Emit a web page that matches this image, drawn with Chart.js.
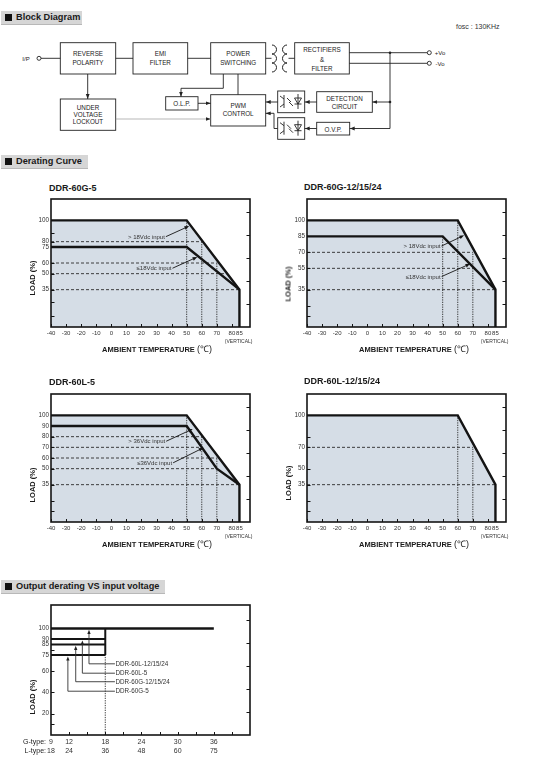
<!DOCTYPE html>
<html>
<head>
<meta charset="utf-8">
<title>DDR-60 derating</title>
<script src="https://cdn.jsdelivr.net/npm/chart.js@4.4.1/dist/chart.umd.min.js"></script>
<style>
  body { margin:0; width:540px; height:757px; position:relative; overflow:hidden; background:#fff; color:#222; font-family:"Liberation Sans", Arial, sans-serif; }
  .abs { position:absolute; }
  .hd { position:absolute; left:1px; height:13px; background:#d6d6d6; border-bottom:1px solid #b8b8b8; font-weight:bold; font-size:9.2px; line-height:13px; white-space:nowrap; color:#1a1a1a; }
  .hd i { display:inline-block; width:7px; height:7px; background:#111; margin:0 4px 0 4px; vertical-align:-0.5px; }
  .ttl { position:absolute; font-weight:bold; font-size:9px; line-height:10px; white-space:nowrap; color:#1a1a1a; }
  .ylab { position:absolute; font-weight:bold; font-size:7.5px; line-height:9px; white-space:nowrap; transform:translate(-50%,-50%) rotate(-90deg); color:#1a1a1a; }
  .xlab { position:absolute; font-weight:bold; font-size:7.5px; line-height:11px; white-space:nowrap; transform:translate(-50%,-50%); color:#1a1a1a; }
  .xlab span { font-weight:normal; font-size:9px; }
  .vert { position:absolute; font-size:5px; line-height:6px; white-space:nowrap; transform:translate(-100%,-50%); color:#333; }
  .vin { position:absolute; font-size:7px; line-height:9px; white-space:nowrap; transform:translate(-100%,-50%); color:#222; }
  canvas { position:absolute; }
</style>
</head>
<body>

<div class="hd" style="top:11px;width:81px"><i></i>Block Diagram</div>
<div class="abs" style="left:456px;top:23px;font-size:7px;color:#333">fosc : 130KHz</div>

<svg class="abs" style="left:0;top:0" width="540" height="145" viewBox="0 0 540 145">
  <defs>
    <marker id="ah" markerUnits="userSpaceOnUse" markerWidth="5" markerHeight="5" refX="5" refY="2.5" orient="auto">
      <path d="M0,0.6 L5,2.5 L0,4.4 Z" fill="#222" stroke="none"/>
    </marker>
  </defs>
  <g fill="none" stroke="#222" stroke-width="0.9">
    <rect x="60.3" y="42.7" width="55.4" height="31.3"/>
    <rect x="133" y="42.7" width="54.7" height="31.3"/>
    <rect x="210.7" y="42.7" width="55" height="31.3"/>
    <rect x="294.7" y="42.7" width="54.6" height="31.3"/>
    <rect x="60.3" y="99" width="55.4" height="31.3"/>
    <rect x="165.7" y="96.7" width="32.3" height="13.3"/>
    <rect x="210.7" y="94.7" width="55" height="31.3"/>
    <rect x="277.7" y="91" width="27" height="21.7"/>
    <rect x="277.7" y="117.7" width="27" height="21.6"/>
    <rect x="316.7" y="91.7" width="55.6" height="20.6"/>
    <rect x="316.7" y="122.3" width="33" height="12.7"/>
    <circle cx="39" cy="58.3" r="2"/>
    <circle cx="429.3" cy="52.7" r="2"/>
    <circle cx="429.3" cy="63.3" r="2"/>
    <path d="M41,58.3 H60.3 M115.7,58.3 H133 M187.7,58.3 H210.7 M265.7,58.3 H271.5 M288.5,58.3 H294.7"/>
    <path d="M349.3,52.7 H427.3 M349.3,63.3 H427.3 M390,52.7 V128.5"/>
    <path d="M272,45 a4.5,4.5 0 0 1 0,9 a4.5,4.5 0 0 1 0,9 a4.5,4.5 0 0 1 0,9" stroke-width="1"/>
    <path d="M287,45 a4.5,4.5 0 0 0 0,9 a4.5,4.5 0 0 0 0,9 a4.5,4.5 0 0 0 0,9" stroke-width="1"/>
    <path d="M87.7,74 V99" marker-end="url(#ah)"/>
    <path d="M223.3,74 V88.3 H181 V96.7" marker-end="url(#ah)"/>
    <path d="M238,74 V94.7"/>
    <path d="M198,103.3 H210.7" marker-end="url(#ah)"/>
    <path d="M115.7,119 H210.7" stroke="#999" stroke-width="0.7" marker-end="url(#ah)"/>
    <path d="M277.7,102 H265.7" marker-end="url(#ah)"/>
    <path d="M277.7,128.5 H274 V113.3 H265.7" marker-end="url(#ah)"/>
    <path d="M316.7,102 H304.7" marker-end="url(#ah)"/>
    <path d="M316.7,128.5 H304.7" marker-end="url(#ah)"/>
    <path d="M390,102 H372.3" marker-end="url(#ah)"/>
    <path d="M390,128.5 H349.7" marker-end="url(#ah)"/>
    <!-- opto couplers -->
    <path d="M284,95 V108 M284,99 L280,96 M284,104 L280,107 M287,98 L291,102 M289,102 L293,106 M298,94 V109 M294.5,98 H301.5 L298,104 Z M294.5,104 H301.5"/>
    <path d="M284,121.7 V134.7 M284,125.7 L280,122.7 M284,130.7 L280,133.7 M287,124.7 L291,128.7 M289,128.7 L293,132.7 M298,120.7 V135.7 M294.5,124.7 H301.5 L298,130.7 Z M294.5,130.7 H301.5"/>
  </g>
  <g fill="#222">
    <circle cx="390" cy="52.7" r="1.3"/>
    <circle cx="390" cy="102" r="1.3"/>
  </g>
  <g font-family="Liberation Sans, Arial, sans-serif" font-size="6.3" fill="#222" text-anchor="middle">
    <text x="88" y="55.5">REVERSE</text>
    <text x="88" y="64.5">POLARITY</text>
    <text x="160.3" y="55.5">EMI</text>
    <text x="160.3" y="64.5">FILTER</text>
    <text x="238.2" y="55.5">POWER</text>
    <text x="238.2" y="64.5">SWITCHING</text>
    <text x="322" y="52.2">RECTIFIERS</text>
    <text x="322" y="61.5">&amp;</text>
    <text x="322" y="70.5">FILTER</text>
    <text x="88" y="109.5">UNDER</text>
    <text x="88" y="117.2">VOLTAGE</text>
    <text x="88" y="124.2">LOCKOUT</text>
    <text x="181.8" y="105.5">O.L.P.</text>
    <text x="238.2" y="107.5">PWM</text>
    <text x="238.2" y="115.5">CONTROL</text>
    <text x="344.5" y="100.5">DETECTION</text>
    <text x="344.5" y="109.2">CIRCUIT</text>
    <text x="333.2" y="131.5">O.V.P.</text>
    <text x="26" y="60.5" font-size="6">I/P</text>
    <text x="440" y="54.9" font-size="6">+Vo</text>
    <text x="440" y="65.5" font-size="6">-Vo</text>
  </g>
</svg>

<div class="hd" style="top:155px;width:87px"><i></i>Derating Curve</div>

<div class="ttl" style="left:49px;top:182.5px">DDR-60G-5</div>
<div class="ttl" style="left:304px;top:181.5px">DDR-60G-12/15/24</div>
<canvas id="c1" width="270" height="160" style="left:0;top:190px"></canvas>
<canvas id="c2" width="270" height="160" style="left:256px;top:190px"></canvas>
<div class="ylab" style="left:31.7px;top:278px">LOAD (%)</div>
<div class="ylab" style="left:288px;top:284px">LOAD (%)</div>
<div class="xlab" style="left:157px;top:349px">AMBIENT TEMPERATURE <span>(℃)</span></div>
<div class="xlab" style="left:414px;top:349px">AMBIENT TEMPERATURE <span>(℃)</span></div>
<div class="vert" style="left:252.5px;top:341px">(VERTICAL)</div>
<div class="vert" style="left:508.5px;top:341px">(VERTICAL)</div>

<div class="ttl" style="left:49px;top:377px">DDR-60L-5</div>
<div class="ttl" style="left:304px;top:376px">DDR-60L-12/15/24</div>
<canvas id="c3" width="270" height="160" style="left:0;top:385px"></canvas>
<canvas id="c4" width="270" height="160" style="left:256px;top:385px"></canvas>
<div class="ylab" style="left:31.7px;top:485px">LOAD (%)</div>
<div class="ylab" style="left:288px;top:482.5px">LOAD (%)</div>
<div class="xlab" style="left:157px;top:544px">AMBIENT TEMPERATURE <span>(℃)</span></div>
<div class="xlab" style="left:414px;top:544px">AMBIENT TEMPERATURE <span>(℃)</span></div>
<div class="vert" style="left:252.5px;top:536px">(VERTICAL)</div>
<div class="vert" style="left:508.5px;top:536px">(VERTICAL)</div>

<div class="hd" style="top:580px;width:164px"><i></i>Output derating VS input voltage</div>
<canvas id="c5" width="270" height="161" style="left:0;top:596px"></canvas>
<div class="ylab" style="left:31.7px;top:697px">LOAD (%)</div>
<div class="vin" style="left:46px;top:740.7px">G-type:</div>
<div class="vin" style="left:46px;top:750.3px">L-type:</div>

<script>
var FONT = '"Liberation Sans", Arial, sans-serif';

// ---- derating curves: ambient temperature (°C) against load (%)
var tempTicks = [-40, -30, -20, -10, 0, 10, 20, 30, 40, 50, 60, 70, 80, 85];
var rightTicks = [21.6, 43.2, 64.8, 86.4, 108];

// DDR-60G-5
var g5UpperTemp = [-40, 50, 85, 85];
var g5UpperLoad = [100, 100, 35, 0];
var g5LowerTemp = [-40, 50, 85];
var g5LowerLoad = [75, 75, 35];
var g5LoadTicks = [100, 80, 75, 60, 50, 35];
var g5MinorTicks = [88, 23, 10];
var g5GuideLoad = [80, 60, 50, 35];
var g5GuideEnd = [60, 70, 77, 85];
var g5DropTemp = [50, 60, 70];
var g5DropLoad = [100, 80, 60];
var g5Notes = ['> 18Vdc input', '\u226418Vdc input'];
var g5NoteFrom = [[36.2, 84.7], [40.6, 55.1]];
var g5NoteTo = [[51.6, 94.6], [57, 65.6]];

// DDR-60G-12/15/24
var g12UpperTemp = [-40, 60, 85, 85];
var g12UpperLoad = [100, 100, 35, 0];
var g12LowerTemp = [-40, 50, 85];
var g12LowerLoad = [85, 85, 35];
var g12LoadTicks = [100, 85, 70, 55, 35];
var g12MinorTicks = [20, 10];
var g12GuideLoad = [70, 55, 35];
var g12GuideEnd = [70, 70, 85];
var g12DropTemp = [50, 60, 70];
var g12DropLoad = [85, 100, 70];
var g12Notes = ['> 18Vdc input', '\u226418Vdc input'];
var g12NoteFrom = [[49.2, 75.9], [49.3, 47.3]];
var g12NoteTo = [[64.2, 85.9], [68.2, 59.2]];

// DDR-60L-5
var l5UpperTemp = [-40, 50, 85, 85];
var l5UpperLoad = [100, 100, 35, 0];
var l5LowerTemp = [-40, 50, 70, 85];
var l5LowerLoad = [90, 90, 50, 35];
var l5LoadTicks = [100, 90, 80, 70, 60, 50, 35];
var l5MinorTicks = [20, 10];
var l5GuideLoad = [80, 70, 60, 50, 35];
var l5GuideEnd = [60, 60, 70, 70, 85];
var l5DropTemp = [50, 60, 70];
var l5DropLoad = [100, 80, 60];
var l5Notes = ['> 36Vdc input', '\u226436Vdc input'];
var l5NoteFrom = [[36.4, 75.7], [41, 55.5]];
var l5NoteTo = [[54, 87.2], [61.1, 69.6]];

// DDR-60L-12/15/24
var l12UpperTemp = [-40, 60, 85, 85];
var l12UpperLoad = [100, 100, 35, 0];
var l12LoadTicks = [100, 70, 50, 35];
var l12MinorTicks = [80, 20, 10];
var l12GuideLoad = [70, 35];
var l12GuideEnd = [70, 85];
var l12DropTemp = [60, 70];
var l12DropLoad = [100, 70];

// ---- output derating vs input voltage
var vinG = [9, 12, 18, 24, 30, 36];
var vinL = [18, 24, 36, 48, 60, 75];
var vinMinor = [12, 15, 18, 21, 24, 27, 30, 33, 36, 39];
var outLoadTicks = [100, 90, 85, 75, 60, 40, 20];
var outMinorTicks = [80, 10];
var fullLoadVin = [9, 36];
var lowVin = [9, 18];
var lowVinLoad = [90, 85, 75];
var modelNames = ['DDR-60L-12/15/24', 'DDR-60L-5', 'DDR-60G-12/15/24', 'DDR-60G-5'];
var modelLoad = [100, 90, 85, 75];
var modelArrowVin = [15.3, 14.2, 13.1, 11.8];
var modelLabelLoad = [66.8, 58, 50, 41.1];
var modelLabelVin = 19.6;

var FILL = '#d5dde6';
var INK = '#141414';

function pts(xs, ys) {
  return xs.map(function (x, i) { return { x: x, y: ys[i] }; });
}

function line(data, width, dash) {
  return { data: data, borderColor: dash ? '#2a2a2a' : INK, borderWidth: width, borderDash: dash || [],
    borderJoinStyle: 'miter', pointRadius: 0, fill: false, tension: 0 };
}

function arrow(ctx, x1, y1, x2, y2, size) {
  var ang = Math.atan2(y2 - y1, x2 - x1);
  ctx.beginPath();
  ctx.moveTo(x1, y1);
  ctx.lineTo(x2 - Math.cos(ang) * size * 0.6, y2 - Math.sin(ang) * size * 0.6);
  ctx.stroke();
  ctx.beginPath();
  ctx.moveTo(x2, y2);
  ctx.lineTo(x2 - size * Math.cos(ang - 0.38), y2 - size * Math.sin(ang - 0.38));
  ctx.lineTo(x2 - size * Math.cos(ang + 0.38), y2 - size * Math.sin(ang + 0.38));
  ctx.closePath();
  ctx.fill();
}

// frame, inward tick marks, callouts
function decor(cfg) {
  return {
    id: 'decor',
    afterDatasetsDraw: function (chart) {
      var ctx = chart.ctx, a = chart.chartArea, sx = chart.scales.x, sy = chart.scales.y;
      ctx.save();
      ctx.strokeStyle = INK;
      ctx.fillStyle = INK;
      ctx.lineWidth = 1;
      ctx.beginPath();
      cfg.left.forEach(function (v) {
        var p = Math.round(sy.getPixelForValue(v)) + 0.5;
        ctx.moveTo(a.left, p); ctx.lineTo(a.left + 3.5, p);
      });
      rightTicks.forEach(function (v) {
        var p = Math.round(sy.getPixelForValue(v)) + 0.5;
        ctx.moveTo(a.right, p); ctx.lineTo(a.right - 3.5, p);
      });
      cfg.bottom.forEach(function (v) {
        var p = Math.round(sx.getPixelForValue(v)) + 0.5;
        ctx.moveTo(p, a.bottom); ctx.lineTo(p, a.bottom - 3);
      });
      ctx.stroke();
      ctx.lineWidth = 1.6;
      ctx.strokeRect(a.left, a.top, a.right - a.left, a.bottom - a.top);

      ctx.font = '6px ' + FONT;
      ctx.textBaseline = 'middle';
      ctx.lineWidth = 0.9;
      (cfg.notes || []).forEach(function (t, i) {
        var x1 = sx.getPixelForValue(cfg.from[i][0]), y1 = sy.getPixelForValue(cfg.from[i][1]);
        var x2 = sx.getPixelForValue(cfg.to[i][0]), y2 = sy.getPixelForValue(cfg.to[i][1]);
        ctx.fillStyle = '#333';
        ctx.textAlign = 'right';
        ctx.fillText(t, x1 - 1, y1 + 0.5);
        ctx.fillStyle = INK;
        arrow(ctx, x1, y1, x2, y2, 5);
      });

      if (cfg.callouts) {
        ctx.font = '6.3px ' + FONT;
        ctx.textAlign = 'left';
        modelNames.forEach(function (name, i) {
          var lx = sx.getPixelForValue(modelLabelVin), ly = sy.getPixelForValue(modelLabelLoad[i]);
          var ax = sx.getPixelForValue(modelArrowVin[i]), ty = sy.getPixelForValue(modelLoad[i]) + 1.3;
          ctx.strokeStyle = '#333';
          ctx.fillStyle = '#222';
          ctx.beginPath();
          ctx.moveTo(lx, ly); ctx.lineTo(ax, ly);
          ctx.stroke();
          arrow(ctx, ax, ly, ax, ty, 4.5);
          ctx.fillStyle = '#333';
          ctx.fillText(name, lx + 0.5, ly + 0.5);
        });
      }
      ctx.restore();
    }
  };
}

function scales(xMin, xMax, xTicks, xHeight, xPad, xFont, xLabel, yMax, yTicks) {
  return {
    x: {
      type: 'linear', min: xMin, max: xMax,
      afterBuildTicks: function (s) { s.ticks = xTicks.map(function (v) { return { value: v }; }); },
      afterFit: function (s) { s.height = xHeight; },
      grid: { display: false, drawTicks: false }, border: { display: false },
      ticks: { autoSkip: false, maxRotation: 0, minRotation: 0, padding: xPad, color: '#333', font: xFont, callback: xLabel }
    },
    y: {
      type: 'linear', min: 0, max: yMax,
      afterBuildTicks: function (s) { s.ticks = yTicks.map(function (v) { return { value: v }; }); },
      afterFit: function (s) { s.width = 51; },
      grid: { display: false, drawTicks: false }, border: { display: false },
      ticks: { autoSkip: false, padding: 2, color: '#333', font: { family: FONT, size: 6.3 } }
    }
  };
}

function baseOptions(sc) {
  return {
    responsive: false, animation: false, events: [],
    layout: { padding: { top: 9, right: 20, left: 0, bottom: 0 } },
    plugins: { legend: { display: false }, tooltip: { enabled: false }, filler: { drawTime: 'beforeDatasetsDraw' } },
    scales: sc
  };
}

function derating(id, c) {
  var ds = [];
  ds.push({ data: pts(c.upT, c.upL), borderColor: INK, borderWidth: 2.4, borderJoinStyle: 'miter',
    pointRadius: 0, tension: 0, fill: 'origin', backgroundColor: FILL });
  if (c.loT) ds.push(line(pts(c.loT, c.loL), 2.4));
  c.gLoad.forEach(function (l, i) { ds.push(line(pts([tempTicks[0], c.gEnd[i]], [l, l]), 0.9, [3, 2])); });
  c.dTemp.forEach(function (t, i) { ds.push(line(pts([t, t], [0, c.dLoad[i]]), 0.9, [1.3, 1.1])); });
  var labels = function (v) { return String(v); };
  new Chart(document.getElementById(id), {
    type: 'line',
    data: { datasets: ds },
    options: baseOptions(scales(-40, 92, tempTicks, 23, 3, { family: FONT, size: 6 }, labels, 120, c.ticks)),
    plugins: [decor({ left: c.ticks.concat(c.minor), bottom: tempTicks, notes: c.notes, from: c.from, to: c.to })]
  });
}

derating('c1', { upT: g5UpperTemp, upL: g5UpperLoad, loT: g5LowerTemp, loL: g5LowerLoad, ticks: g5LoadTicks,
  minor: g5MinorTicks, gLoad: g5GuideLoad, gEnd: g5GuideEnd, dTemp: g5DropTemp, dLoad: g5DropLoad,
  notes: g5Notes, from: g5NoteFrom, to: g5NoteTo });
derating('c2', { upT: g12UpperTemp, upL: g12UpperLoad, loT: g12LowerTemp, loL: g12LowerLoad, ticks: g12LoadTicks,
  minor: g12MinorTicks, gLoad: g12GuideLoad, gEnd: g12GuideEnd, dTemp: g12DropTemp, dLoad: g12DropLoad,
  notes: g12Notes, from: g12NoteFrom, to: g12NoteTo });
derating('c3', { upT: l5UpperTemp, upL: l5UpperLoad, loT: l5LowerTemp, loL: l5LowerLoad, ticks: l5LoadTicks,
  minor: l5MinorTicks, gLoad: l5GuideLoad, gEnd: l5GuideEnd, dTemp: l5DropTemp, dLoad: l5DropLoad,
  notes: l5Notes, from: l5NoteFrom, to: l5NoteTo });
derating('c4', { upT: l12UpperTemp, upL: l12UpperLoad, ticks: l12LoadTicks,
  minor: l12MinorTicks, gLoad: l12GuideLoad, gEnd: l12GuideEnd, dTemp: l12DropTemp, dLoad: l12DropLoad });

// output derating vs input voltage
var outSets = [line(pts(fullLoadVin, [100, 100]), 2.6)];
lowVinLoad.forEach(function (l) { outSets.push(line(pts(lowVin, [l, l]), 2)); });
outSets.push(line(pts([lowVin[1], lowVin[1]], [lowVinLoad[lowVinLoad.length - 1], 100]), 2));
outSets.push(line(pts([lowVin[1], lowVin[1]], [0, lowVinLoad[lowVinLoad.length - 1]]), 0.9, [1.3, 1.1]));

new Chart(document.getElementById('c5'), {
  type: 'line',
  data: { datasets: outSets },
  options: baseOptions(scales(9, 42, vinG, 22, 2, { family: FONT, size: 7, lineHeight: 1.37 },
    function (v, i) { return [String(vinG[i]), String(vinL[i])]; }, 122, outLoadTicks)),
  plugins: [decor({ left: outLoadTicks.concat(outMinorTicks), bottom: vinMinor, callouts: true })]
});
</script>
</body>
</html>
